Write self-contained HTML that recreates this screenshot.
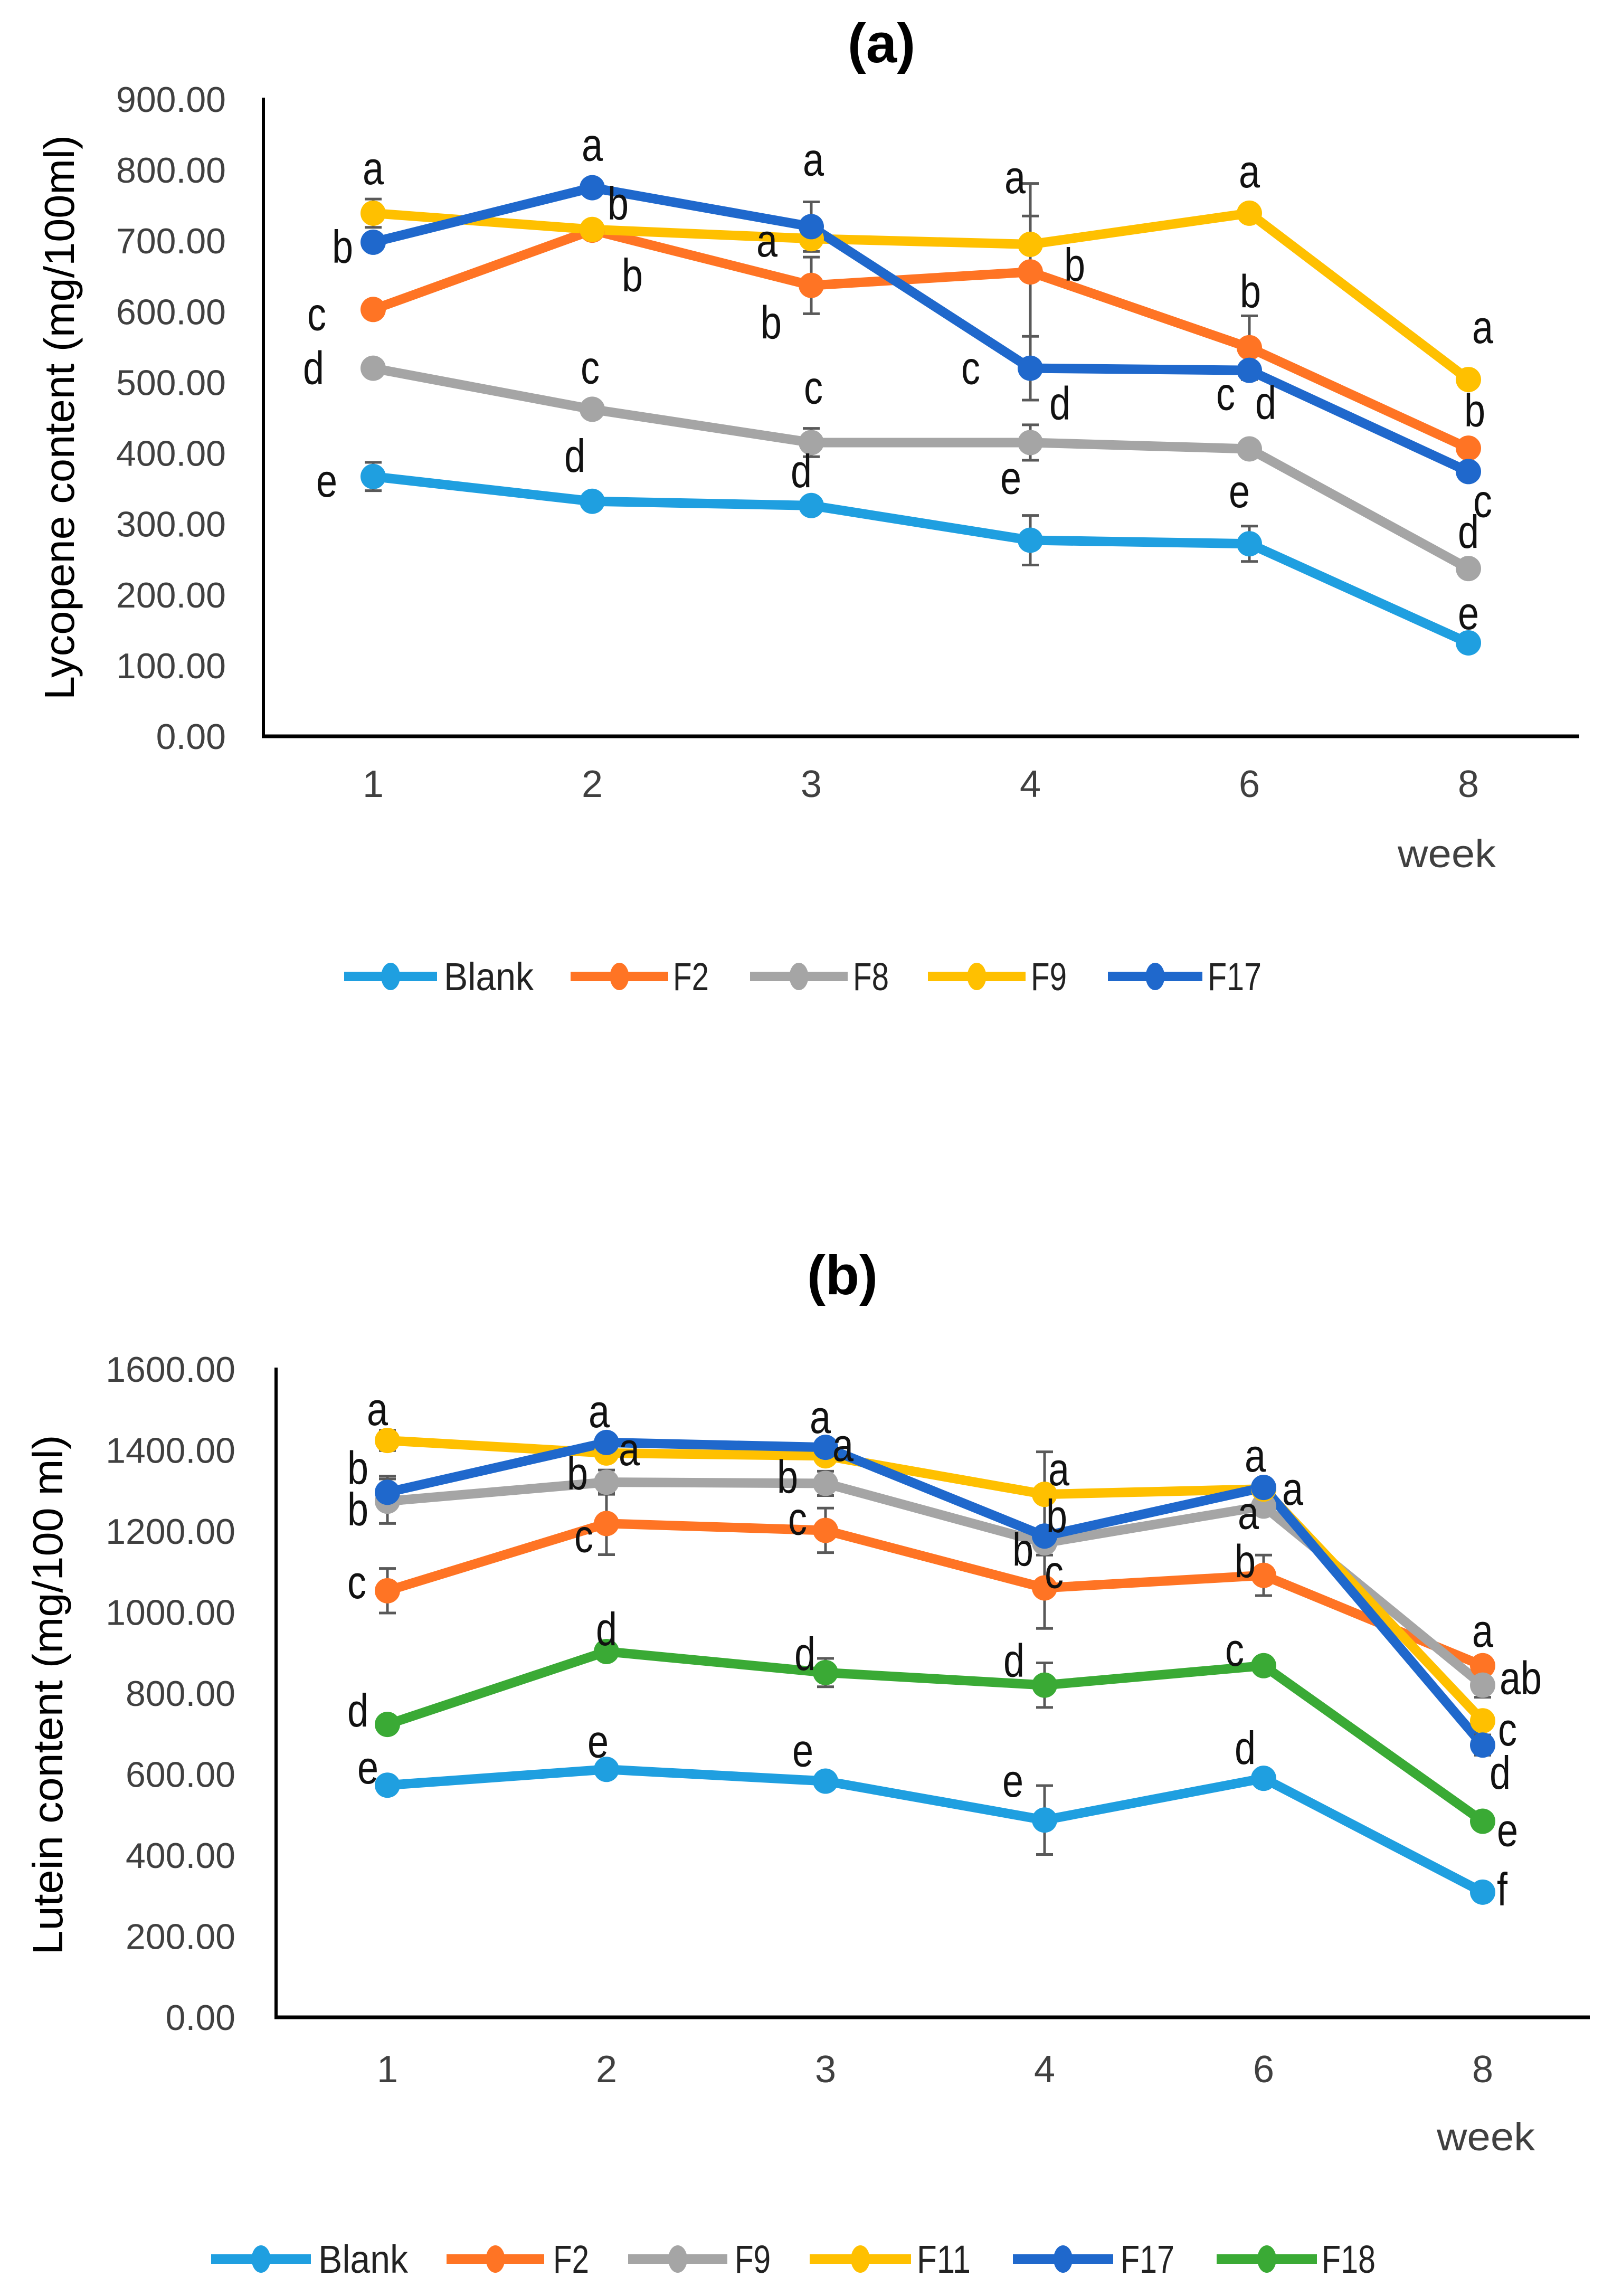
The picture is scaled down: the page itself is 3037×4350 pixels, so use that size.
<!DOCTYPE html>
<html><head><meta charset="utf-8"><title>Lycopene and lutein content charts</title>
<style>html,body{margin:0;padding:0;background:#fff}svg{display:block}text{font-family:"Liberation Sans",sans-serif}</style>
</head><body>
<svg id="fig" xmlns="http://www.w3.org/2000/svg" width="3037" height="4350" viewBox="0 0 3037 4350">
<rect width="3037" height="4350" fill="#fff"/>
</svg>
<script>
// ---------- Chart (a) data ----------
const weeksA = ["1","2","3","4","6","8"];
const namesA = ["Blank","F2","F8","F9","F17"];
const blankA = [367,332,326,277,272,132];
const f2A    = [603,715,637,656,549,407];
const f8A    = [520,462,415,415,406,237];
const f9A    = [739,716,703,695,739,504];
const f17A   = [698,775,720,520,517,374];
const errBlankA = [20,8,8,35,25,8];
const errF2A    = [8,8,40,125,45,8];
const errF8A    = [8,8,20,25,8,8];
const errF9A    = [20,8,8,40,8,8];
const errF17A   = [8,8,35,45,8,8];
const yTicksA = ["0.00","100.00","200.00","300.00","400.00","500.00","600.00","700.00","800.00","900.00"];
const lettersA = [
 [3,0,'a',0,-85],[4,0,'b',-58,9],[1,0,'c',-107,9],[2,0,'d',-113,0],[0,0,'e',-88,8],
 [4,1,'a',0,-81],[3,1,'b',49,-49],[1,1,'b',76,86],[2,1,'c',-4,-79],[0,1,'d',-33,-86],
 [4,2,'a',4,-127],[3,2,'a',-84,4],[1,2,'b',-76,71],[2,2,'c',4,-104],[0,2,'d',-19,-65],
 [3,3,'a',-29,-127],[1,3,'b',84,-13],[4,3,'c',-113,0],[2,3,'d',56,-74],[0,3,'e',-37,-118],
 [3,4,'a',0,-79],[1,4,'b',2,-106],[4,4,'c',-45,45],[2,4,'d',31,-87],[0,4,'e',-19,-99],
 [3,5,'a',27,-99],[1,5,'b',12,-71],[4,5,'c',27,56],[2,5,'d',0,-69],[0,5,'e',0,-56]
];
// ---------- Chart (b) data ----------
const weeksB = ["1","2","3","4","6","8"];
const namesB = ["Blank","F2","F9","F11","F17","F18"];
const blankB = [573,612,583,487,590,309];
const f2B    = [1053,1219,1202,1060,1091,868];
const f9B    = [1274,1321,1318,1171,1262,820];
const f11B   = [1424,1393,1386,1291,1304,732];
const f17B   = [1296,1419,1407,1188,1308,672];
const f18B   = [723,903,851,820,868,484];
const errBlankB = [15,15,15,85,15,15];
const errF2B    = [55,77,55,100,50,15];
const errF9B    = [55,30,30,30,15,30];
const errF11B   = [25,15,15,105,15,15];
const errF17B   = [40,15,15,15,15,25];
const errF18B   = [15,15,35,55,15,15];
const yTicksB = ["0.00","200.00","400.00","600.00","800.00","1000.00","1200.00","1400.00","1600.00"];
const lettersB = [
 [3,0,'a',-19,-59],[4,0,'b',-56,-46],[2,0,'b',-56,16],[1,0,'c',-58,-16],[5,0,'d',-56,-26],[0,0,'e',-37,-33],
 [4,1,'a',-14,-59],[3,1,'a',43,-7],[2,1,'b',-55,-16],[1,1,'c',-43,24],[5,1,'d',0,-42],[0,1,'e',-16,-53],
 [4,2,'a',-10,-57],[3,2,'a',33,-20],[2,2,'b',-72,-12],[1,2,'c',-53,-22],[5,2,'d',-39,-35],[0,2,'e',-43,-58],
 [3,3,'a',27,-47],[4,3,'b',23,-37],[2,3,'b',-41,13],[1,3,'c',18,-30],[5,3,'d',-58,-46],[0,3,'e',-60,-74],
 [4,4,'a',-16,-60],[3,4,'a',55,0],[2,4,'a',-29,13],[1,4,'b',-35,-26],[5,4,'c',-55,-30],[0,4,'d',-35,-57],
 [1,5,'a',0,-66],[2,5,'ab',72,-13],[3,5,'c',47,17],[4,5,'d',33,53],[5,5,'e',47,17],[0,5,'f',37,-5]
];

const NS = "http://www.w3.org/2000/svg";
const svg = document.getElementById('fig');
function mk(tag, attrs, parent){
  const e = document.createElementNS(NS, tag);
  for (const k in attrs) e.setAttribute(k, attrs[k]);
  (parent||svg).appendChild(e);
  return e;
}
function txt(str, attrs, parent){
  const e = mk('text', attrs, parent);
  e.textContent = str;
  return e;
}

function drawChart(cfg){
  const g = mk('g', {});
  
  
  const yScale = v => cfg.y0 + (cfg.yTop - cfg.y0) * (v / cfg.yMax);
  const xScale = i => cfg.x0 + i * cfg.dx;
  const t = txt(cfg.title, {x:cfg.titleX, y:cfg.titleY, 'font-size':105, 'font-weight':'bold', 'text-anchor':'middle', fill:'#000'}, g);
  
  
  cfg.yTicks.forEach((lab, i) => {
    const v = cfg.yMax * i / (cfg.yTicks.length - 1);
    const e = txt(lab, {x:cfg.tickRight, y:yScale(v) + 24, 'font-size':68, 'text-anchor':'end', fill:'#404040'}, g);
    
    
  });
  const ya = mk('line', {x1:cfg.axisX, y1:cfg.yTop - 3, x2:cfg.axisX, y2:cfg.y0 + 3, stroke:'#000', 'stroke-width':6}, g);
  
  
  const xa = mk('line', {x1:cfg.axisX - 3, y1:cfg.y0, x2:cfg.axisRight, y2:cfg.y0, stroke:'#000', 'stroke-width':7}, g);
  
  
  cfg.weeks.forEach((w, i) => {
    const e = txt(w, {x:xScale(i), y:cfg.xLabY, 'font-size':72, 'text-anchor':'middle', fill:'#404040'}, g);
    
    
  });
  const wk = txt('week', {x:cfg.weekX, y:cfg.weekY, 'font-size':74, textLength:186, lengthAdjust:'spacingAndGlyphs', fill:'#404040'}, g);
  
  
  const yt = txt(cfg.yTitle, {x:0, y:0, 'font-size':80, 'text-anchor':'middle', textLength:cfg.yTitleLen, lengthAdjust:'spacingAndGlyphs', fill:'#000', transform:`translate(${cfg.yTitleX},${cfg.yTitleY}) rotate(-90)`}, g);
  
  
  cfg.series.forEach((s, si) => {
    const sg = mk('g', {}, g);
    
    
    const pts = s.map((v, i) => xScale(i) + ',' + yScale(v)).join(' ');
    const pl = mk('polyline', {points:pts, fill:'none', stroke:cfg.colors[si], 'stroke-width':18, 'stroke-linejoin':'round'}, sg);
    
    
  });
  cfg.series.forEach((s, si) => {
    s.forEach((v, i) => {
      const err = cfg.errs[si][i];
      const x = xScale(i), yt2 = yScale(v + err), yb = yScale(v - err);
      const eg = mk('g', {stroke:'#595959', 'stroke-width':5}, g);
      
      
      mk('line', {x1:x, y1:yt2, x2:x, y2:yb}, eg);
      mk('line', {x1:x-16, y1:yt2, x2:x+16, y2:yt2}, eg);
      mk('line', {x1:x-16, y1:yb, x2:x+16, y2:yb}, eg);
    });
  });
  cfg.series.forEach((s, si) => {
    s.forEach((v, i) => {
      const c = mk('circle', {cx:xScale(i), cy:yScale(v), r:24, fill:cfg.colors[si]}, g);
      
      
    });
  });
  cfg.letters.forEach(L => {
    const [si, i, s, ox, oy] = L;
    const e = txt(s, {x:0, y:0, 'font-size':72, 'text-anchor':'middle', fill:'#111',
      transform:`translate(${xScale(i)+ox},${yScale(cfg.series[si][i])+oy+30}) scale(1,1.22)`}, g);
    
    
  });
  cfg.legend.forEach((L, si) => {
    const lg = mk('g', {}, g);
    
    
    mk('line', {x1:L[0], y1:cfg.legY, x2:L[1], y2:cfg.legY, stroke:cfg.colors[si], 'stroke-width':18}, lg);
    mk('ellipse', {cx:(L[0]+L[1])/2, cy:cfg.legY, rx:18, ry:26, fill:cfg.colors[si]}, lg);
    const tw = cfg.names[si].length * 34;
    txt(cfg.names[si], {x:L[2], y:cfg.legY + 26, 'font-size':74, textLength:tw, lengthAdjust:'spacingAndGlyphs', fill:'#222'}, lg);
  });
}

drawChart({
  id:'chart-a-lycopene', title:'(a)', titleX:1670, titleY:118,
  x0:707, dx:415, y0:1395, yTop:188, yMax:900, axisX:499, axisRight:2992, tickRight:428,
  yTicks:yTicksA, weeks:weeksA, xLabY:1510, weekX:2648, weekY:1643,
  yTitle:'Lycopene content (mg/100ml)', yTitleX:140, yTitleY:791, yTitleLen:1070,
  names:namesA, series:[blankA,f2A,f8A,f9A,f17A],
  errs:[errBlankA,errF2A,errF8A,errF9A,errF17A],
  colors:['#1f9fe0','#ff7424','#a5a5a5','#ffc000','#1f68cc'],
  letters:lettersA, legY:1850,
  legend:[[652,828,841],[1081,1266,1275],[1421,1606,1616],[1758,1943,1953],[2099,2278,2288]]
});
drawChart({
  id:'chart-b-lutein', title:'(b)', titleX:1596, titleY:2452,
  x0:734, dx:415, y0:3822, yTop:2594, yMax:1600, axisX:523, axisRight:3012, tickRight:446,
  yTicks:yTicksB, weeks:weeksB, xLabY:3945, weekX:2722, weekY:4074,
  yTitle:'Lutein content (mg/100 ml)', yTitleX:118, yTitleY:3211, yTitleLen:985,
  names:namesB, series:[blankB,f2B,f9B,f11B,f17B,f18B],
  errs:[errBlankB,errF2B,errF9B,errF11B,errF17B,errF18B],
  colors:['#1f9fe0','#ff7424','#a5a5a5','#ffc000','#1f68cc','#3aaa35'],
  letters:lettersB, legY:4280,
  legend:[[400,589,603],[846,1031,1048],[1190,1378,1392],[1534,1726,1737],[1919,2109,2123],[2305,2495,2504]]
});
</script>
</body></html>
